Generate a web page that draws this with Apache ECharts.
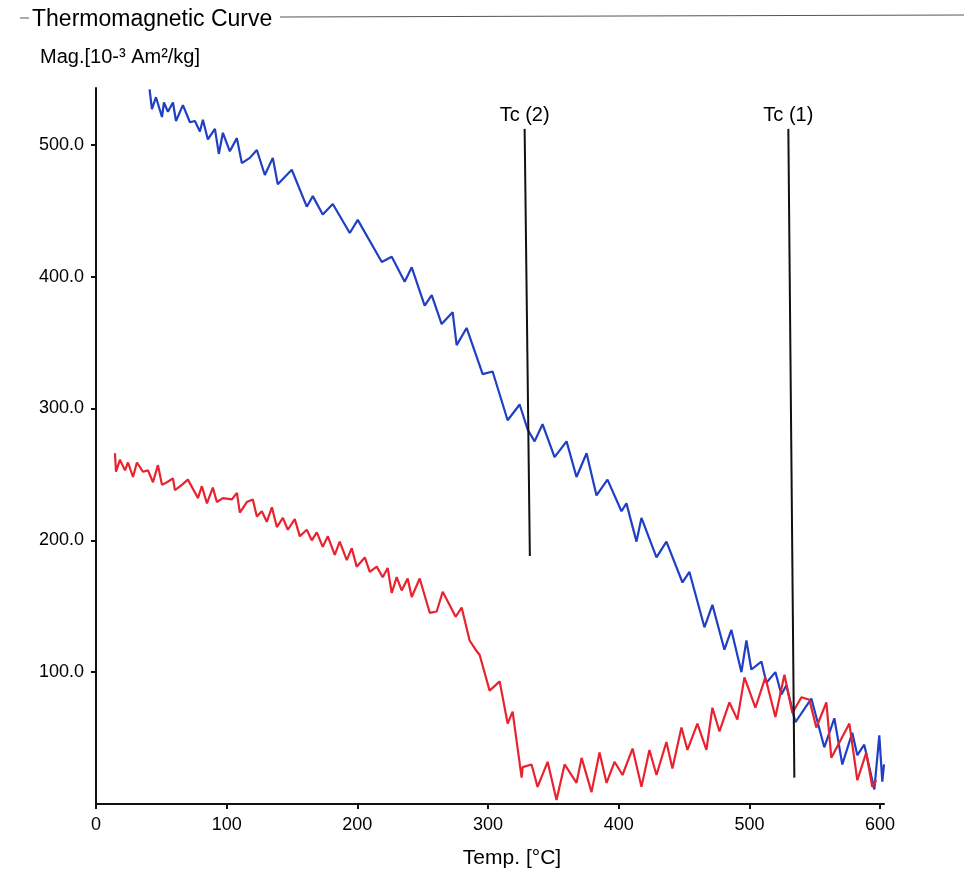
<!DOCTYPE html>
<html>
<head>
<meta charset="utf-8">
<script src="https://cdn.jsdelivr.net/npm/echarts@6/dist/echarts.min.js"></script>
<style>
html, body { margin: 0; padding: 0; background: #fff; }
#chart { width: 964px; height: 876px; }
</style>
</head>
<body>
<div id="chart"></div>
<script>
// blue curve [temp, mag]
var blueCurve = [
  [41, 542], [42.8, 527], [45.9, 536], [50.5, 521], [52, 532], [55, 525], [58.9, 532], [61.2, 518],
  [66.5, 530], [71.9, 517], [75.7, 518], [79.5, 510], [81.8, 519], [85.6, 504], [91, 512], [94, 493],
  [97.1, 509], [102.4, 495], [107.8, 505], [111.6, 486], [117.7, 490], [123.1, 496], [129.2, 477],
  [135.3, 490], [139.1, 470], [149.8, 481], [161.3, 453], [165.9, 461], [173.5, 447], [181.2, 455],
  [194.2, 433], [200.3, 443], [218.7, 411], [226.3, 415], [236.2, 396], [241.6, 407], [251.5, 378],
  [256.9, 386], [264.5, 364], [272.9, 373], [276, 348], [283.6, 361], [295.9, 326], [303.5, 328],
  [315, 291], [324.2, 303], [330.3, 284], [335.6, 275], [341.7, 288], [350.9, 263], [360.1, 275],
  [367.7, 248], [375.4, 266], [383, 234], [391.4, 246], [402.1, 222], [405.9, 228], [413.6, 199],
  [417.4, 217], [428.9, 187], [436.5, 199], [448.8, 168], [454.1, 176], [465.6, 134], [471.7, 151],
  [480.9, 117], [486.2, 132], [493.9, 100], [497.7, 124], [501.5, 102], [509.2, 108], [513, 92],
  [519.9, 100], [524.5, 83], [528.3, 90], [535.2, 62], [547.4, 80], [557.3, 43], [565, 65],
  [571.1, 30], [578.7, 54], [582.6, 37], [587.9, 45], [595.6, 11], [599.4, 52], [601.7, 17], [603, 30]
];

// red curve [temp, mag]
var redCurve = [
  [14.5, 266], [15.3, 252], [18.3, 261], [22.2, 253], [24.5, 259], [28.3, 248], [31.3, 259], [35.9, 252],
  [39.8, 253], [43.6, 244], [47.4, 257], [50.5, 242], [54.3, 244], [58.9, 247], [60.4, 238], [65.7, 242],
  [70.3, 246], [78, 232], [81, 241], [84.9, 228], [89.4, 240], [92.5, 229], [97.1, 232], [104, 231],
  [107.8, 236], [110.1, 221], [115.4, 229], [120, 231], [123.1, 218], [126.9, 222], [130.7, 214],
  [134.6, 225], [138.4, 210], [143, 217], [146.8, 208], [152.1, 216], [156, 203], [161.3, 208],
  [165.1, 200], [169, 206], [173.5, 195], [177.4, 203], [182.7, 189], [186.5, 199], [191.9, 185],
  [195.7, 194], [199.5, 180], [205.7, 187], [209.5, 176], [214.8, 180], [219.4, 172], [223.2, 179],
  [226.3, 160], [230.1, 172], [233.9, 162], [238.5, 171], [241.6, 157], [247.7, 171], [255.4, 145],
  [260.7, 146], [265.3, 161], [270.6, 151], [275.2, 142], [279.8, 149], [285.9, 124], [290.5, 117],
  [293.6, 113], [301.2, 86], [308.9, 93], [315, 61], [318.8, 70], [325.7, 20], [326.5, 28], [333.3, 30],
  [337.9, 13], [345.6, 32], [352.4, 3], [358.6, 30], [367.7, 16], [371.6, 35], [379.2, 9], [385.3, 39],
  [390.7, 16], [396.8, 32], [402.9, 22], [410.6, 42], [417.4, 13], [423.5, 41], [428.9, 22], [436.5, 47],
  [441.1, 27], [448, 58], [452.6, 41], [460.2, 61], [467.1, 41], [471.7, 73], [477.1, 55], [484.7, 77],
  [490.8, 64], [496.2, 96], [504.6, 73], [512.2, 96], [519.9, 66], [526.8, 98], [532.9, 69], [539.8, 81],
  [545.9, 79], [551.2, 58], [558.9, 77], [562.7, 35], [576.5, 61], [582.6, 18], [589.4, 39], [594, 13],
  [597.1, 18]
];

// Curie temperature markers: bottom point, top point
var tc2Line = [[332, 188], [328, 512]];
var tc1Line = [[534.4, 20], [529.8, 512]];
var tcNames = ['Tc (2)', 'Tc (1)'];

var xTicks = [0, 100, 200, 300, 400, 500, 600];

var font = 'Liberation Sans, Arial, sans-serif';

function markerSeries(pts, name) {
  return {
    type: 'line',
    data: [
      { value: pts[0] },
      { value: pts[1], label: { show: true, position: 'top', distance: 3, formatter: name,
        color: '#000', fontSize: 20, fontFamily: font } }
    ],
    symbol: 'circle',
    symbolSize: 0,
    showSymbol: true,
    itemStyle: { color: 'rgba(0,0,0,0)' },
    lineStyle: { color: '#111', width: 2 },
    z: 5,
    silent: true
  };
}

var chart = echarts.init(document.getElementById('chart'));
chart.setOption({
  backgroundColor: '#fff',
  animation: false,
  title: [
    { text: 'Thermomagnetic Curve', left: 32, top: 8, padding: 0,
      textStyle: { fontFamily: font, fontSize: 23, fontWeight: 'normal', color: '#000' } },
    { text: 'Mag.[10-³ Am²/kg]', left: 40, top: 47, padding: 0,
      textStyle: { fontFamily: font, fontSize: 20, fontWeight: 'normal', color: '#000' } }
  ],
  graphic: [
    { type: 'line', shape: { x1: 20, y1: 18, x2: 29, y2: 18 }, style: { stroke: '#555', lineWidth: 1 } },
    { type: 'line', shape: { x1: 280, y1: 17, x2: 964, y2: 15 }, style: { stroke: '#555', lineWidth: 1 } }
  ],
  grid: { left: 96, right: 80, top: 88, bottom: 72 },
  xAxis: {
    type: 'value',
    min: 0,
    max: 603,
    interval: 100,
    name: 'Temp. [°C]',
    nameLocation: 'middle',
    nameGap: 44,
    nameTextStyle: { fontFamily: font, fontSize: 21, color: '#000', padding: [0, 0, 0, 44] },
    axisLine: { lineStyle: { color: '#111', width: 2 } },
    axisTick: { show: true, length: 5, lineStyle: { color: '#111', width: 2 } },
    axisLabel: {
      fontFamily: font, fontSize: 18, color: '#000', margin: 12, showMaxLabel: false,
      formatter: function (v) { return xTicks.indexOf(v) >= 0 ? String(v) : ''; }
    },
    splitLine: { show: false }
  },
  yAxis: {
    type: 'value',
    min: 0,
    max: 543,
    interval: 100,
    axisLine: { show: true, lineStyle: { color: '#111', width: 2 } },
    axisTick: { show: true, length: 5, lineStyle: { color: '#111', width: 2 } },
    axisLabel: {
      fontFamily: font, fontSize: 18, color: '#000', margin: 12,
      showMinLabel: false, showMaxLabel: false,
      formatter: function (v) { return v.toFixed(1); }
    },
    splitLine: { show: false }
  },
  series: [
    {
      name: 'blue', type: 'line', data: blueCurve, symbol: 'none',
      lineStyle: { color: '#1f3fc4', width: 2.2 }, z: 3
    },
    {
      name: 'red', type: 'line', data: redCurve, symbol: 'none',
      lineStyle: { color: '#e8232f', width: 2.2 }, z: 4
    },
    markerSeries(tc2Line, tcNames[0]),
    markerSeries(tc1Line, tcNames[1])
  ]
});
</script>
</body>
</html>
